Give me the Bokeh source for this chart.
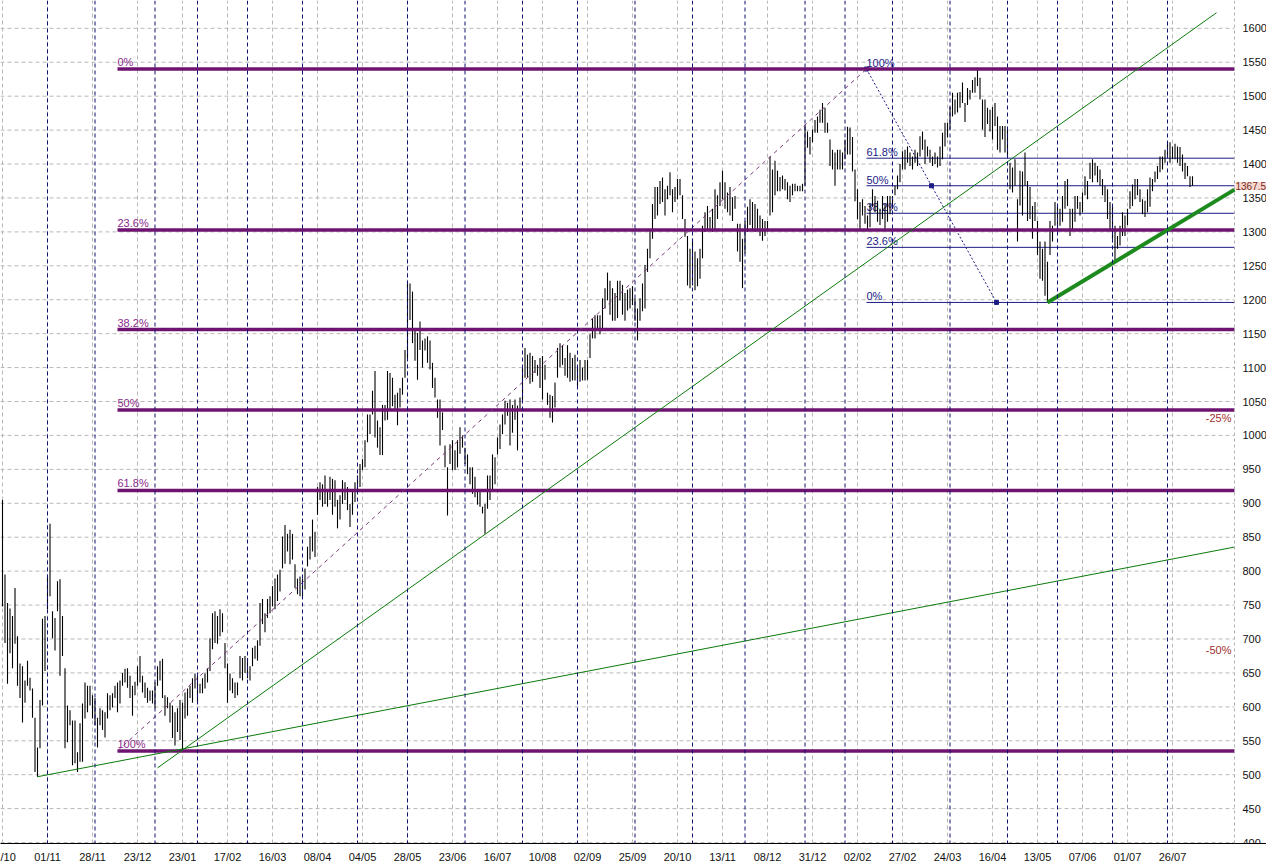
from bokeh.plotting import figure
from bokeh.models import Range1d, FixedTicker, Label, Span, ColumnDataSource
from bokeh.core.properties import value
from bokeh.embed import file_html
from bokeh.resources import INLINE

# ---------------- data (daily high / low) ----------------
highs = [
    905, 795, 753, 745, 734, 775, 704, 664, 660, 639,
    668, 643, 627, 584, 540, 610, 730, 734, 792, 870,
    741, 731, 785, 788, 734, 657, 602, 595, 580, 580,
    533, 576, 605, 636, 631, 631, 617, 613, 584, 598,
    595, 592, 620, 617, 620, 631, 636, 639, 650, 656,
    657, 646, 631, 637, 660, 675, 646, 636, 628, 624,
    624, 636, 660, 668, 671, 617, 614, 606, 602, 592,
    598, 610, 606, 621, 627, 631, 642, 649, 646, 634,
    642, 649, 657, 701, 738, 741, 734, 744, 738, 694,
    664, 649, 642, 636, 636, 675, 672, 675, 672, 660,
    687, 690, 698, 753, 759, 738, 759, 763, 778, 789,
    795, 802, 851, 868, 855, 861, 855, 810, 789, 792,
    789, 804, 836, 851, 876, 858, 924, 931, 928, 941,
    921, 939, 936, 934, 905, 912, 934, 931, 924, 899,
    920, 931, 941, 958, 965, 993, 1031, 1031, 1066, 1095,
    1022, 1012, 1045, 1045, 1095, 1092, 1085, 1060, 1063, 1070,
    1085, 1126, 1227, 1224, 1212, 1158, 1151, 1168, 1140, 1143,
    1146, 1140, 1107, 1085, 1053, 1053, 1034, 985, 953, 987,
    993, 978, 993, 1012, 1000, 982, 972, 953, 953, 939,
    920, 920, 895, 899, 941, 941, 972, 968, 997, 1016,
    1031, 1051, 1048, 1053, 1045, 1053, 1044, 1056, 1100, 1129,
    1119, 1122, 1117, 1111, 1104, 1114, 1117, 1104, 1063, 1060,
    1058, 1078, 1129, 1136, 1133, 1114, 1133, 1122, 1114, 1119,
    1100, 1111, 1100, 1111, 1111, 1149, 1173, 1177, 1177, 1177,
    1202, 1217, 1240, 1228, 1217, 1210, 1228, 1228, 1222, 1210,
    1215, 1217, 1220, 1202, 1187, 1202, 1224, 1251, 1275, 1304,
    1341, 1366, 1366, 1375, 1380, 1363, 1368, 1388, 1363, 1366,
    1378, 1378, 1354, 1319, 1294, 1275, 1290, 1271, 1261, 1275,
    1309, 1329, 1338, 1322, 1334, 1363, 1354, 1373, 1390, 1373,
    1358, 1366, 1351, 1353, 1312, 1312, 1290, 1316, 1337, 1348,
    1344, 1341, 1334, 1324, 1319, 1316, 1316, 1411, 1392, 1405,
    1390, 1381, 1383, 1378, 1373, 1368, 1371, 1371, 1368, 1368,
    1371, 1458, 1448, 1440, 1451, 1465, 1470, 1480, 1490, 1483,
    1461, 1436, 1421, 1417, 1421, 1421, 1417, 1436, 1455, 1454,
    1440, 1392, 1363, 1344, 1348, 1338, 1324, 1341, 1363, 1353,
    1346, 1334, 1353, 1341, 1353, 1353, 1353, 1368, 1383, 1400,
    1419, 1421, 1426, 1417, 1411, 1421, 1417, 1441, 1448, 1436,
    1426, 1421, 1411, 1417, 1411, 1426, 1446, 1461, 1461, 1484,
    1505, 1495, 1505, 1506, 1520, 1490, 1512, 1509, 1524, 1528,
    1539, 1527, 1495, 1495, 1483, 1480, 1484, 1490, 1470, 1456,
    1456, 1456, 1451, 1402, 1395, 1407, 1348, 1390, 1389, 1417,
    1375, 1366, 1338, 1344, 1316, 1286, 1275, 1286, 1256, 1316,
    1309, 1344, 1338, 1334, 1353, 1375, 1378, 1334, 1334, 1353,
    1353, 1344, 1358, 1382, 1375, 1402, 1407, 1402, 1397, 1392,
    1378, 1368, 1363, 1344, 1338, 1309, 1294, 1309, 1329, 1324,
    1334, 1360, 1370, 1378, 1378, 1363, 1348, 1346, 1363, 1380,
    1378, 1389, 1397, 1411, 1411, 1421, 1432, 1432, 1426, 1430,
    1426, 1425, 1414, 1402, 1397, 1382, 1382,
]
lows = [
    748, 694, 634, 679, 657, 693, 631, 613, 577, 606,
    631, 624, 584, 504, 497, 539, 602, 653, 744, 763,
    701, 683, 741, 646, 675, 539, 548, 573, 514, 517,
    504, 519, 519, 583, 592, 602, 583, 573, 540, 573,
    566, 555, 583, 595, 599, 613, 592, 605, 631, 636,
    628, 613, 587, 617, 631, 636, 621, 613, 606, 609,
    605, 598, 631, 639, 613, 587, 598, 577, 554, 543,
    563, 551, 536, 583, 587, 613, 606, 627, 605, 620,
    620, 627, 636, 653, 685, 694, 693, 704, 710, 657,
    606, 624, 620, 613, 617, 642, 639, 650, 642, 639,
    660, 671, 668, 690, 722, 710, 731, 738, 748, 744,
    756, 770, 804, 811, 829, 810, 817, 775, 766, 763,
    760, 773, 807, 817, 829, 821, 883, 905, 895, 899,
    895, 905, 883, 895, 863, 876, 899, 905, 890, 865,
    883, 902, 920, 924, 949, 953, 990, 1002, 1031, 997,
    982, 971, 971, 1022, 1023, 1037, 1043, 1037, 1015, 1041,
    1060, 1085, 1114, 1170, 1136, 1110, 1082, 1126, 1100, 1125,
    1107, 1097, 1070, 1056, 1026, 985, 1008, 953, 882, 958,
    949, 949, 953, 973, 982, 958, 943, 928, 914, 909,
    898, 895, 885, 855, 892, 905, 921, 928, 972, 980,
    1002, 1016, 1029, 985, 1004, 1023, 978, 1038, 1051, 1085,
    1085, 1076, 1079, 1092, 1088, 1070, 1053, 1082, 1045, 1026,
    1019, 1041, 1085, 1100, 1104, 1088, 1085, 1079, 1081, 1081,
    1073, 1079, 1081, 1081, 1082, 1114, 1143, 1143, 1155, 1149,
    1158, 1187, 1199, 1178, 1169, 1169, 1173, 1199, 1178, 1169,
    1184, 1187, 1192, 1169, 1140, 1169, 1183, 1187, 1241, 1261,
    1290, 1319, 1324, 1341, 1344, 1324, 1348, 1354, 1329, 1344,
    1348, 1354, 1319, 1293, 1221, 1217, 1221, 1214, 1220, 1231,
    1261, 1300, 1304, 1304, 1300, 1304, 1319, 1338, 1348, 1334,
    1329, 1324, 1316, 1334, 1271, 1256, 1217, 1268, 1300, 1310,
    1304, 1300, 1304, 1294, 1287, 1294, 1301, 1324, 1329, 1354,
    1360, 1360, 1363, 1361, 1348, 1344, 1354, 1360, 1360, 1360,
    1360, 1368, 1424, 1414, 1432, 1446, 1446, 1461, 1461, 1446,
    1446, 1397, 1392, 1368, 1392, 1392, 1392, 1407, 1414, 1414,
    1389, 1345, 1319, 1304, 1324, 1312, 1304, 1307, 1337, 1329,
    1315, 1310, 1319, 1304, 1315, 1326, 1334, 1354, 1363, 1373,
    1392, 1392, 1402, 1397, 1392, 1402, 1397, 1411, 1421, 1400,
    1411, 1402, 1397, 1400, 1395, 1397, 1407, 1426, 1439, 1451,
    1470, 1473, 1476, 1483, 1490, 1462, 1487, 1495, 1505, 1505,
    1515, 1495, 1451, 1440, 1459, 1448, 1436, 1456, 1421, 1417,
    1436, 1417, 1411, 1363, 1358, 1368, 1286, 1339, 1324, 1368,
    1316, 1319, 1290, 1316, 1266, 1231, 1228, 1206, 1196, 1266,
    1286, 1309, 1304, 1309, 1315, 1334, 1338, 1294, 1304, 1315,
    1334, 1324, 1329, 1354, 1348, 1378, 1373, 1383, 1373, 1368,
    1354, 1344, 1319, 1304, 1290, 1256, 1275, 1280, 1294, 1294,
    1310, 1334, 1338, 1348, 1354, 1344, 1326, 1322, 1329, 1337,
    1360, 1373, 1378, 1388, 1392, 1402, 1411, 1402, 1407, 1407,
    1402, 1397, 1389, 1378, 1382, 1366, 1368,
]

date_labels = ["/10", "01/11", "28/11", "23/12", "23/01", "17/02", "16/03",
               "08/04", "04/05", "28/05", "23/06", "16/07", "10/08", "02/09",
               "25/09", "20/10", "13/11", "08/12", "31/12", "02/02", "27/02",
               "24/03", "16/04", "13/05", "07/06", "01/07", "26/07"]
label_every = 18
month_starts = [18, 37, 61, 78, 98, 120, 142, 162, 185, 208, 230, 253, 276,
                297, 321, 337, 356, 379, 402, 422, 444, 466]
price_ticks = list(range(400, 1601, 50))

# long-term Fibonacci retracement (low -> high)
fib_low_x, fib_low = 46, 535
fib_high_x, fib_high = 345.6, 1540
fib_pcts = [0.0, 0.236, 0.382, 0.5, 0.618, 1.0]
fib_texts = ["0%", "23.6%", "38.2%", "50%", "61.8%", "100%"]

# short-term Fibonacci (high -> low)
fib2_high_x, fib2_high = 345.6, 1540
fib2_low_x, fib2_low = 397.6, 1196
fib2_pcts = [1.0, 0.618, 0.5, 0.382, 0.236, 0.0]
fib2_texts = ["100%", "61.8%", "50%", "38.2%", "23.6%", "0%"]

# trend lines (anchor points: bar index, price)
fan_slow = [(14, 497), (72, 538)]
fan_steep = [(62, 510), (485.6, 1623)]
support = [(418, 1196), (445, 1256)]

last_close = 1367.5
pct_marks = [-25, -50]

# ---------------- figure ----------------
X0, XR = -0.8, 505.6      # whole canvas width
X1 = 492.8                # price-axis position (end of the chart area)
Y0, Y1 = 398.6, 1641.0
FONT = "Liberation Sans"

p = figure(width=1266, height=865, output_backend="svg", toolbar_location=None,
           x_range=Range1d(X0, XR), y_range=Range1d(Y0, Y1),
           y_axis_location="right", min_border_left=0, min_border_top=0,
           min_border_right=0, min_border_bottom=16)
p.outline_line_color = None
p.background_fill_color = "white"
p.border_fill_color = "white"

xt = [k * label_every for k in range(len(date_labels))]
p.xaxis.ticker = FixedTicker(ticks=xt)
p.xaxis.major_label_overrides = {t: lab for t, lab in zip(xt, date_labels)}
p.xaxis.major_tick_line_color = None
p.xaxis.minor_tick_line_color = None
p.xaxis.axis_line_color = "black"
p.xaxis.major_label_standoff = 1
p.xaxis.major_label_text_font = FONT
p.xaxis.major_label_text_font_size = "11px"
p.xaxis.major_label_text_color = "#111111"

p.yaxis.fixed_location = X1
p.yaxis.ticker = FixedTicker(ticks=price_ticks)
p.yaxis.major_tick_line_color = None
p.yaxis.minor_tick_line_color = None
p.yaxis.axis_line_color = "#b0b0b0"
p.yaxis.axis_line_dash = "3 3"
p.yaxis.major_label_standoff = 2
p.yaxis.major_label_text_font = FONT
p.yaxis.major_label_text_font_size = "11px"
p.yaxis.major_label_text_color = "#111111"

p.xgrid.ticker = FixedTicker(ticks=xt)
p.xgrid.grid_line_color = "#b8b8b8"
p.xgrid.grid_line_dash = "4 3"
p.ygrid.visible = False
# horizontal price grid, limited to the chart area
p.segment(x0=[X0] * len(price_ticks), y0=price_ticks, x1=[X1] * len(price_ticks),
          y1=price_ticks, line_color="#b8b8b8", line_dash="4 3", line_width=1)

# month separators
for m in month_starts:
    p.add_layout(Span(location=m, dimension="height", line_color="#101070",
                      line_dash="4 3", line_width=1))

# short-term fib (blue)
NAVY = "#1c1c86"
f2_prices = [fib2_low + pc * (fib2_high - fib2_low) for pc in fib2_pcts]
p.segment(x0=[fib2_high_x] * len(f2_prices), y0=f2_prices, x1=[X1] * len(f2_prices),
          y1=f2_prices, line_color=NAVY, line_width=1)
p.text(x=[fib2_high_x] * len(f2_prices), y=f2_prices, text=fib2_texts,
       text_font=value(FONT), text_font_size="11px", text_color=NAVY,
       text_baseline="bottom", text_align="left", y_offset=0)
p.segment(x0=[fib2_high_x], y0=[fib2_high], x1=[fib2_low_x], y1=[fib2_low],
          line_color=NAVY, line_dash="2 2", line_width=1)
p.scatter(x=[fib2_high_x, (fib2_high_x + fib2_low_x) / 2, fib2_low_x],
          y=[fib2_high, (fib2_high + fib2_low) / 2, fib2_low],
          marker="square", size=4, color=NAVY)

# price bars
src = ColumnDataSource(dict(x=list(range(len(highs))), hi=highs, lo=lows))
p.segment(x0="x", y0="lo", x1="x", y1="hi", source=src, line_color="black",
          line_width=1.1)

# long-term fib (purple)
PURPLE = "#6e1470"
f_prices = [fib_high - pc * (fib_high - fib_low) for pc in fib_pcts]
p.segment(x0=[fib_low_x] * len(f_prices), y0=f_prices, x1=[X1] * len(f_prices),
          y1=f_prices, line_color=PURPLE, line_width=3.5)
p.text(x=[fib_low_x] * len(f_prices), y=f_prices, text=fib_texts,
       text_font=value(FONT), text_font_size="11px", text_color="#8a2a8a",
       text_baseline="bottom", text_align="left", y_offset=-1)
p.segment(x0=[fib_low_x], y0=[fib_low], x1=[fib_high_x], y1=[fib_high],
          line_color="#7a3a7a", line_dash="4 4", line_width=1)

# trend lines
def extend(pts, x_end):
    (xa, ya), (xb, yb) = pts
    slope = (yb - ya) / (xb - xa)
    return xa, ya, x_end, ya + slope * (x_end - xa)

xa, ya, xb, yb = extend(fan_slow, X1)
p.segment(x0=[xa], y0=[ya], x1=[xb], y1=[yb], line_color="#0a7a0a", line_width=1)
(sa, sya), (sb, syb) = fan_steep
p.segment(x0=[sa], y0=[sya], x1=[sb], y1=[syb], line_color="#0a7a0a", line_width=1)
xa, ya, xb, yb = extend(support, X1)
p.segment(x0=[xa], y0=[ya], x1=[xb], y1=[yb], line_color="#1d8a1d", line_width=4)

# percentage-from-last markers
for pc in pct_marks:
    lvl = last_close * (1 + pc / 100.0)
    p.add_layout(Label(x=X1, y=lvl, text=f"{pc}%", text_align="right",
                       text_baseline="middle", x_offset=-3, text_font=FONT,
                       text_font_size="11px", text_color="#a03030"))

# last price tag
p.add_layout(Label(x=X1, y=last_close, text=f"{last_close}", text_align="left",
                   text_baseline="middle", x_offset=1, text_font=FONT,
                   text_font_size="10px", text_color="#7a2a20",
                   background_fill_color="#f6d8d0"))

open("out.html", "w").write(file_html(p, INLINE))
